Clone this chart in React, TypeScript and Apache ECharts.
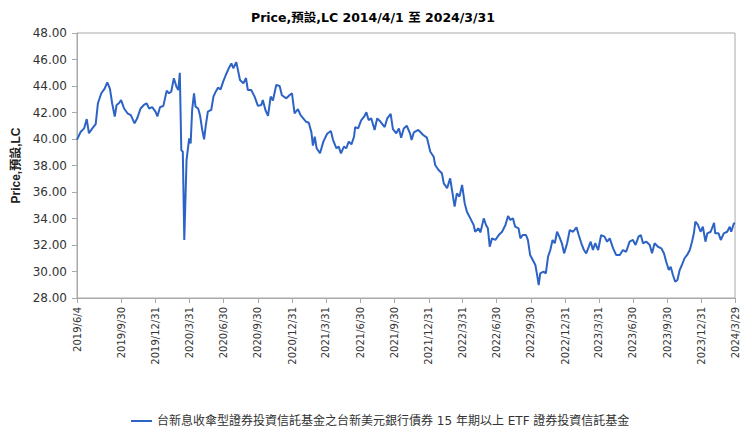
import React, { useEffect, useRef } from "react";
import * as echarts from "echarts";

const titleText = "Price,預設,LC 2014/4/1 至 2024/3/31";
const yAxisName = "Price,預設,LC";
const seriesName = "台新息收傘型證券投資信託基金之台新美元銀行債券 15 年期以上 ETF 證券投資信託基金";

const yMin = 28;
const yMax = 48;
const yStep = 2;

const tickLabels = [
  "2019/6/4", "2019/9/30", "2019/12/31", "2020/3/31", "2020/6/30", "2020/9/30", "2020/12/31",
  "2021/3/31", "2021/6/30", "2021/9/30", "2021/12/31", "2022/3/31", "2022/6/30", "2022/9/30",
  "2022/12/31", "2023/3/31", "2023/6/30", "2023/9/30", "2023/12/31", "2024/3/29",
];

const dates = [
  "2019-06-04", "2019-06-14", "2019-06-23", "2019-06-30", "2019-07-06", "2019-07-15", "2019-07-24", "2019-07-30",
  "2019-08-08", "2019-08-17", "2019-08-24", "2019-08-31", "2019-09-06", "2019-09-13", "2019-09-18", "2019-09-24",
  "2019-09-30", "2019-10-08", "2019-10-17", "2019-10-26", "2019-11-05", "2019-11-12", "2019-11-21", "2019-11-30",
  "2019-12-07", "2019-12-14", "2019-12-22", "2019-12-31", "2020-01-05", "2020-01-12", "2020-01-21", "2020-01-30",
  "2020-02-05", "2020-02-11", "2020-02-18", "2020-02-25", "2020-03-01", "2020-03-05", "2020-03-09", "2020-03-13",
  "2020-03-17", "2020-03-23", "2020-03-30", "2020-04-03", "2020-04-07", "2020-04-12", "2020-04-16", "2020-04-23",
  "2020-04-28", "2020-05-04", "2020-05-09", "2020-05-13", "2020-05-19", "2020-05-28", "2020-06-03", "2020-06-09",
  "2020-06-15", "2020-06-22", "2020-06-29", "2020-07-06", "2020-07-15", "2020-07-21", "2020-07-26", "2020-08-03",
  "2020-08-13", "2020-08-22", "2020-08-29", "2020-09-03", "2020-09-12", "2020-09-21", "2020-09-30", "2020-10-09",
  "2020-10-13", "2020-10-20", "2020-10-27", "2020-11-03", "2020-11-09", "2020-11-18", "2020-11-27", "2020-12-03",
  "2020-12-15", "2020-12-24", "2020-12-30", "2021-01-06", "2021-01-15", "2021-01-22", "2021-01-28", "2021-02-06",
  "2021-02-13", "2021-02-20", "2021-02-24", "2021-03-01", "2021-03-06", "2021-03-15", "2021-03-24", "2021-04-03",
  "2021-04-13", "2021-04-19", "2021-04-28", "2021-05-04", "2021-05-10", "2021-05-18", "2021-05-24", "2021-05-31",
  "2021-06-07", "2021-06-14", "2021-06-17", "2021-06-25", "2021-07-03", "2021-07-11", "2021-07-17", "2021-07-23",
  "2021-07-30", "2021-08-08", "2021-08-15", "2021-08-24", "2021-09-04", "2021-09-11", "2021-09-20", "2021-09-26",
  "2021-10-05", "2021-10-12", "2021-10-18", "2021-10-25", "2021-11-02", "2021-11-11", "2021-11-15", "2021-11-21",
  "2021-12-03", "2021-12-16", "2021-12-26", "2022-01-04", "2022-01-13", "2022-01-17", "2022-01-26", "2022-02-04",
  "2022-02-09", "2022-02-18", "2022-02-26", "2022-03-03", "2022-03-10", "2022-03-16", "2022-03-23", "2022-03-30",
  "2022-04-06", "2022-04-12", "2022-04-21", "2022-04-30", "2022-05-04", "2022-05-13", "2022-05-18", "2022-05-27",
  "2022-06-02", "2022-06-07", "2022-06-12", "2022-06-18", "2022-06-27", "2022-07-06", "2022-07-15", "2022-07-24",
  "2022-07-31", "2022-08-06", "2022-08-13", "2022-08-19", "2022-08-28", "2022-09-02", "2022-09-08", "2022-09-17",
  "2022-09-22", "2022-09-28", "2022-10-05", "2022-10-12", "2022-10-16", "2022-10-21", "2022-10-25", "2022-11-03",
  "2022-11-09", "2022-11-15", "2022-11-21", "2022-11-27", "2022-12-03", "2022-12-09", "2022-12-15", "2022-12-22",
  "2022-12-28", "2023-01-05", "2023-01-12", "2023-01-21", "2023-01-30", "2023-02-05", "2023-02-12", "2023-02-19",
  "2023-02-25", "2023-03-04", "2023-03-09", "2023-03-15", "2023-03-21", "2023-03-29", "2023-04-06", "2023-04-15",
  "2023-04-22", "2023-04-29", "2023-05-08", "2023-05-16", "2023-05-26", "2023-06-03", "2023-06-12", "2023-06-21",
  "2023-06-30", "2023-07-07", "2023-07-15", "2023-07-21", "2023-07-27", "2023-08-05", "2023-08-14", "2023-08-20",
  "2023-08-27", "2023-09-05", "2023-09-14", "2023-09-21", "2023-09-27", "2023-10-04", "2023-10-09", "2023-10-15",
  "2023-10-21", "2023-10-27", "2023-11-02", "2023-11-08", "2023-11-15", "2023-11-22", "2023-11-29", "2023-12-05",
  "2023-12-10", "2023-12-14", "2023-12-21", "2023-12-28", "2024-01-03", "2024-01-10", "2024-01-15", "2024-01-24",
  "2024-02-02", "2024-02-05", "2024-02-14", "2024-02-20", "2024-02-28", "2024-03-08", "2024-03-15", "2024-03-19",
  "2024-03-26", "2024-03-29",
];

const prices = [
  39.95, 40.55, 40.8, 41.5, 40.43, 40.8, 41.13, 42.7,
  43.45, 43.8, 44.28, 43.8, 42.7, 41.7, 42.57, 42.7,
  42.94, 42.3, 41.94, 41.8, 41.18, 41.56, 42.3, 42.57,
  42.7, 42.3, 42.4, 42.06, 41.7, 42.4, 42.5, 43.65,
  43.45, 43.57, 44.58, 43.95, 43.7, 45.0, 39.17, 39.04,
  32.38, 38.4, 40.05, 39.67, 42.19, 43.45, 42.44, 42.3,
  41.8, 40.68, 39.97, 40.93, 42.06, 42.19, 43.2, 43.57,
  43.87, 43.75, 44.33, 44.83, 45.4, 45.7, 45.34, 45.8,
  44.45, 44.2, 44.6, 43.7, 43.7, 43.2, 42.5, 42.57,
  42.94, 42.19, 41.75, 43.2, 42.9, 44.07, 44.0, 43.3,
  43.07, 43.32, 43.45, 41.94, 42.25, 41.8, 41.6, 41.3,
  41.23, 40.5, 39.5, 40.17, 39.3, 38.92, 39.8, 40.4,
  40.6, 39.92, 39.3, 39.42, 38.92, 39.42, 39.3, 39.8,
  39.6, 40.17, 40.9, 40.8, 41.4, 41.68, 42.02, 41.43,
  41.56, 40.68, 41.56, 41.3, 40.9, 41.56, 41.9, 40.75,
  40.43, 40.8, 40.1, 40.8, 41.0, 40.4, 39.92, 40.5,
  40.68, 40.3, 40.1, 39.04, 38.66, 38.04, 37.66, 37.41,
  36.65, 36.28, 37.03, 36.15, 34.89, 35.9, 35.65, 36.53,
  35.15, 34.51, 34.01, 33.51, 33.0, 33.26, 32.95, 34.01,
  33.51, 33.26, 31.87, 32.5, 32.38, 32.75, 33.0, 33.51,
  34.19, 33.89, 34.01, 33.38, 33.26, 32.5, 32.75, 32.75,
  32.38, 31.25, 30.87, 30.49, 29.86, 28.98, 29.86, 29.99,
  29.86, 31.12, 31.62, 32.38, 32.13, 33.0, 32.63, 32.13,
  31.37, 32.13, 33.13, 33.0, 33.33, 32.75, 32.13, 31.62,
  31.37, 31.87, 32.25, 31.62, 32.13, 31.62, 32.75, 32.63,
  32.25, 32.5, 31.75, 31.25, 31.25, 31.62, 31.49, 32.25,
  32.38, 32.0, 32.63, 32.75, 32.13, 32.25, 32.0, 31.37,
  32.13, 31.87, 31.75, 31.37, 30.74, 30.11, 30.36, 29.74,
  29.23, 29.36, 30.11, 30.49, 31.0, 31.25, 31.62, 32.25,
  32.88, 33.76, 33.51, 33.0, 33.38, 32.25, 32.88, 33.0,
  33.68, 32.88, 32.88, 32.38, 32.88, 33.0, 33.38, 33.0,
  33.64, 33.6,
];

function labelToTs(label: string): number {
  const [y, m, d] = label.split("/").map(Number);
  return Date.UTC(y, m - 1, d);
}

function isoToTs(iso: string): number {
  const [y, m, d] = iso.split("-").map(Number);
  return Date.UTC(y, m - 1, d);
}

function fmtDate(v: number): string {
  const dt = new Date(v);
  return `${dt.getUTCFullYear()}/${dt.getUTCMonth() + 1}/${dt.getUTCDate()}`;
}

export default function App() {
  const ref = useRef<HTMLDivElement>(null);

  useEffect(() => {
    if (!ref.current) return;
    const chart = echarts.init(ref.current, undefined, { renderer: "svg" });
    const tickTs = tickLabels.map(labelToTs);
    const data = dates.map((d, i) => [isoToTs(d), prices[i]]);
    const axisGray = "#a8a8a8";

    chart.setOption({
      animation: false,
      backgroundColor: "#ffffff",
      title: {
        text: titleText,
        left: "center",
        top: 6,
        textStyle: {
          fontFamily: "'DejaVu Sans', 'Noto Sans CJK TC', sans-serif",
          fontSize: 12.5,
          fontWeight: "bold",
          color: "#000000",
        },
      },
      grid: {
        left: 77,
        right: 11,
        top: 33,
        bottom: 130,
        show: true,
        borderColor: axisGray,
        borderWidth: 1,
        backgroundColor: "transparent",
      },
      legend: {
        left: 126,
        top: 410,
        itemWidth: 21,
        itemHeight: 10,
        textStyle: {
          fontFamily: "'DejaVu Sans', 'Noto Sans CJK TC', sans-serif",
          fontSize: 12,
          color: "#333333",
        },
        data: [{ name: seriesName, icon: "path://M0,4 L21,4 L21,6 L0,6 Z" }],
      },
      xAxis: {
        type: "value",
        min: tickTs[0],
        max: tickTs[tickTs.length - 1],
        splitLine: { show: false },
        axisLine: { show: true, lineStyle: { color: axisGray } },
        axisTick: {
          show: true,
          length: 5,
          lineStyle: { color: axisGray },
          customValues: tickTs,
        },
        axisLabel: {
          customValues: tickTs,
          rotate: 90,
          margin: 9,
          fontFamily: "'DejaVu Sans', sans-serif",
          fontSize: 10,
          color: "#333333",
          formatter: (v: number) => fmtDate(v),
        },
      },
      yAxis: {
        type: "value",
        min: yMin,
        max: yMax,
        interval: yStep,
        name: yAxisName,
        nameLocation: "middle",
        nameRotate: 90,
        nameGap: 52,
        nameTextStyle: {
          fontFamily: "'Liberation Sans', 'Noto Sans CJK TC', sans-serif",
          fontSize: 12,
          fontWeight: "bold",
          color: "#222222",
        },
        splitLine: { show: false },
        axisLine: { show: true, lineStyle: { color: axisGray } },
        axisTick: { show: true, length: 5, lineStyle: { color: axisGray } },
        axisLabel: {
          margin: 10,
          fontFamily: "'DejaVu Sans', sans-serif",
          fontSize: 12,
          color: "#333333",
          formatter: (v: number) => v.toFixed(2),
        },
      },
      series: [
        {
          name: seriesName,
          type: "line",
          data,
          symbol: "none",
          showSymbol: false,
          lineStyle: { color: "#2c63c5", width: 2 },
          itemStyle: { color: "#2c63c5" },
        },
      ],
    });

    return () => chart.dispose();
  }, []);

  return <div ref={ref} style={{ width: 746, height: 428, position: "absolute", left: 0, top: 0 }} />;
}
